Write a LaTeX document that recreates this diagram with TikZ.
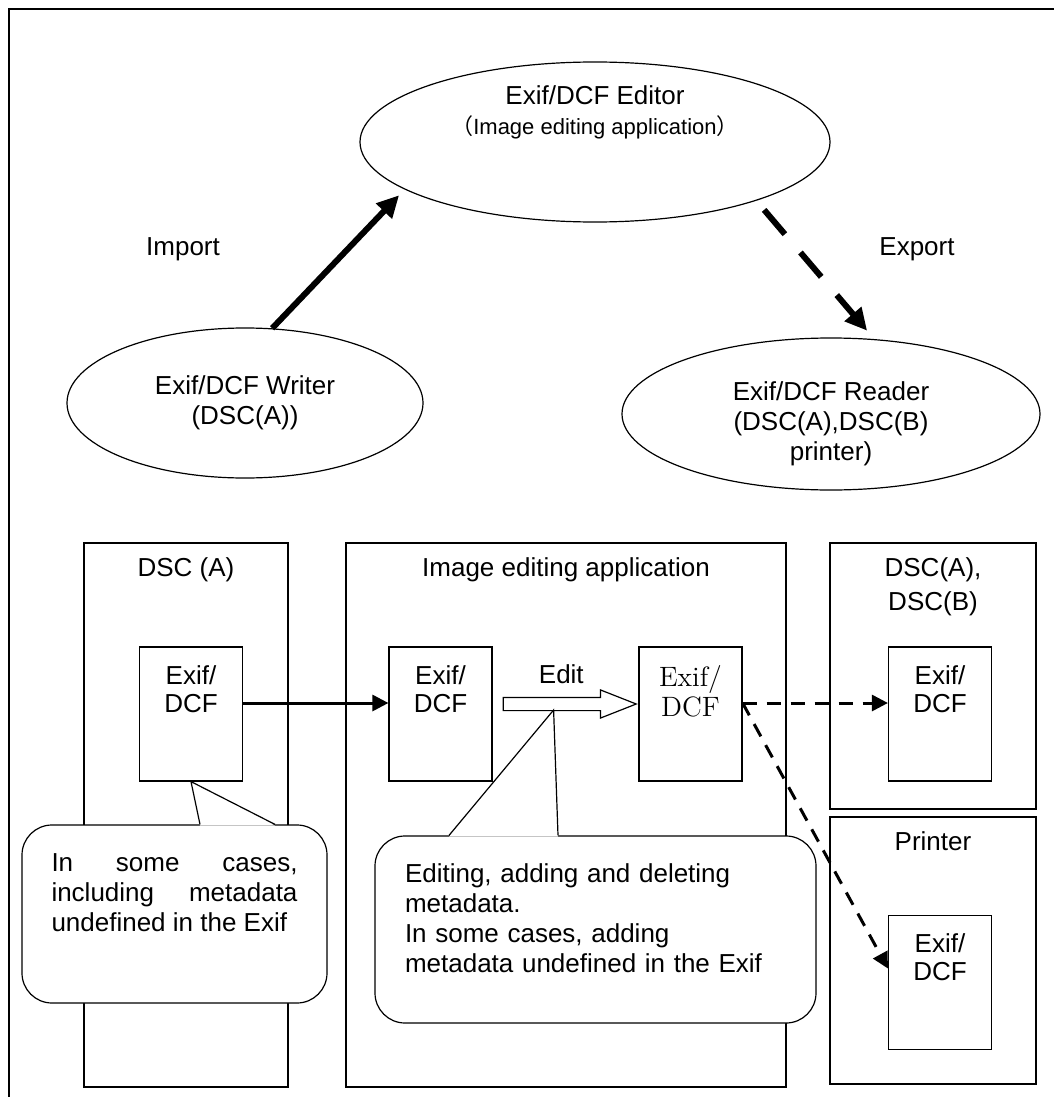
\documentclass[tikz,border=0pt]{standalone}
\usepackage{fontspec}
\setsansfont{Liberation Sans}
\newfontfamily\cjkfont{Noto Sans CJK JP}
\usetikzlibrary{shapes.geometric, shapes.arrows, arrows.meta, positioning, calc}

\tikzset{
  ellipsebox/.style={draw, ellipse, line width=0.6pt, align=center, inner sep=0pt},
  groupbox/.style={draw, line width=0.6pt, inner sep=0pt},
  docbox/.style={draw, line width=0.6pt, fill=white, minimum width=51.5pt, minimum height=67pt,
    inner sep=0pt, align=center, font=\fontsize{13}{14}\selectfont\sffamily, text height=9pt, text depth=10.7pt},
  notebox/.style={draw, fill=white, line width=0.6pt, rounded corners=15pt, inner sep=0pt, text height=9pt},
  flow/.style={line width=1.5pt, -{Triangle[length=8pt, width=8pt]}},
  dashflow/.style={flow, dash pattern=on 7pt off 5pt},
  bigflow/.style={line width=3pt, -{Triangle[length=11pt, width=10.5pt]}},
  editarrow/.style={draw, single arrow, fill=white, line width=0.6pt, minimum height=66.5pt, inner sep=3pt,
    single arrow head extend=3.75pt, single arrow tip angle=43}
}

\begin{document}
\begin{tikzpicture}[x=0.5pt, y=-0.5pt, font=\fontsize{13}{15}\selectfont\sffamily]
  \useasboundingbox (0,0) rectangle (1054,1097);
  \draw[line width=1pt] (9,9) rectangle (1080,1120);

  % Roles
  \node[ellipsebox, minimum width=235pt, minimum height=80pt,
    label={[align=center, yshift=15pt]center:Exif/DCF Editor\\{\fontsize{11}{12}\selectfont{\cjkfont （}Image editing application{\cjkfont ）}}}] (editor) at (595,142) {};
  \node[ellipsebox, minimum width=178pt, minimum height=75pt] (writer) at (245,403) {Exif/DCF Writer\\(DSC(A))};
  \node[ellipsebox, minimum width=209pt, minimum height=76pt,
    label={[align=center, yshift=-5pt]center:Exif/DCF Reader\\(DSC(A),DSC(B)\\printer)}] (reader) at (831,414) {};

  \node (importlbl) at (183,249) {Import};
  \node (exportlbl) at (917,249) {Export};

  \draw[bigflow, shorten >=4pt] (writer.70) -- (editor.194);
  \draw[bigflow, dash pattern=on 16pt off 12pt, shorten <=6pt, shorten >=5.5pt] (editor.-20) -- (reader.60);

  % Devices
  \node[groupbox, minimum width=102pt, minimum height=272pt,
    label={[anchor=north, yshift=-4pt]north:DSC (A)}] (dscA) at (186,815) {};
  \node[groupbox, minimum width=220pt, minimum height=272pt,
    label={[anchor=north, yshift=-4pt]north:Image editing application}] (app) at (566,815) {};
  \node[groupbox, minimum width=103pt, minimum height=133pt,
    label={[anchor=north, yshift=-4pt, align=center]north:DSC(A),\\[2pt]DSC(B)}] (dscB) at (933,676) {};
  \node[groupbox, minimum width=103pt, minimum height=133.5pt,
    label={[anchor=north, yshift=-4pt]north:Printer}] (printer) at (933,950.5) {};

  % Files
  \node[docbox] (docA) at (191,714) {Exif/\\DCF};
  \node[docbox] (docIn) at (440.5,714) {Exif/\\DCF};
  \node[docbox, font=\fontsize{14}{15}\selectfont\rmfamily, text depth=6.5pt] (docOut) at (690.5,714) {Exif/\\DCF};
  \node[docbox] (docB) at (940,714) {Exif/\\DCF};
  \node[docbox] (docP) at (940,982.5) {Exif/\\DCF};

  \node[editarrow, anchor=tail] (edit) at ([xshift=5pt, yshift=5pt]docIn.east) {};
  \node[above=3pt of edit] (editlbl) {Edit};

  \draw[flow] ([yshift=5.5pt]docA.east) -- ([yshift=5.5pt]docIn.west);
  \draw[dashflow] ([yshift=5.5pt]docOut.east) -- ([yshift=5.5pt]docB.west);
  \draw[dashflow] ([yshift=5.5pt]docOut.east) -- ([yshift=7pt]docP.west);

  % Notes
  \node[notebox, minimum width=152.5pt, minimum height=89pt, text width=123pt, align=justify, text depth=51.7pt] (noteA) at (174.5,914)
    {In some cases,\linebreak including metadata\linebreak undefined in the Exif};
  \fill[white] ([xshift=12.75pt, yshift=-0.6pt]noteA.north) -- (docA.south) -- ([xshift=50.25pt, yshift=-0.6pt]noteA.north) -- cycle;
  \draw[line width=0.6pt] ([xshift=12.75pt]noteA.north) -- (docA.south) -- ([xshift=50.25pt]noteA.north);

  \node[notebox, minimum width=220.5pt, minimum height=93.5pt, text width=190.5pt, align=left, text depth=56.2pt] (noteEdit) at (595.5,929.5)
    {Editing, adding and deleting\\metadata.\\In some cases, adding\\metadata undefined in the Exif};
  \coordinate (editpt) at ($(edit.tail)+(51,6)$);
  \fill[white] ([xshift=-73.25pt, yshift=-0.6pt]noteEdit.north) -- (editpt) -- ([xshift=-18.75pt, yshift=-0.6pt]noteEdit.north) -- cycle;
  \draw[line width=0.6pt] ([xshift=-73.25pt]noteEdit.north) -- (editpt) -- ([xshift=-18.75pt]noteEdit.north);
\end{tikzpicture}
\end{document}
